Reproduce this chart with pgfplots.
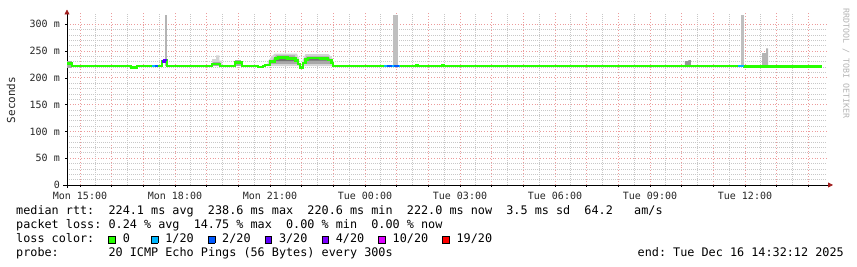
\documentclass[border=0pt]{standalone}
\usepackage{fontspec}
\usepackage{pgfplots}
\pgfplotsset{compat=1.18}
\usetikzlibrary{arrows.meta}
\newfontfamily\rrd{DejaVu Sans Mono}
\definecolor{lzero}{HTML}{26FF00}
\definecolor{lone}{HTML}{00B8FF}
\definecolor{ltwo}{HTML}{0059FF}
\definecolor{lthree}{HTML}{5E00FF}
\definecolor{lfour}{HTML}{7E00FF}
\definecolor{lten}{HTML}{DD00FF}
\definecolor{lnineteen}{HTML}{FF0000}
\definecolor{gridred}{HTML}{EC9C9C}
\definecolor{gridgray}{HTML}{C8C8C8}
\definecolor{arrowred}{HTML}{A01E1E}
\definecolor{smokeL}{HTML}{D4D4D4}
\definecolor{smokeM}{HTML}{A8A8A8}
\definecolor{smokeD}{HTML}{707070}
\definecolor{wmark}{HTML}{B4B4B4}
\newcommand\legfont{\rrd\fontsize{11.8pt}{14pt}\selectfont}
\newcommand\lbox[1]{\makebox[7.1pt][c]{\setlength{\fboxsep}{0pt}\setlength{\fboxrule}{0.7pt}\fcolorbox{black}{#1}{\rule{0pt}{6pt}\rule{6pt}{0pt}}}}
\frenchspacing
\begin{document}
\begin{tikzpicture}
\useasboundingbox (0pt,0pt) rectangle (857pt,267pt);
\begin{axis}[
  at={(67pt,82pt)}, anchor=south west,
  scale only axis, width=760pt, height=171.5pt,
  xmin=14.59, xmax=38.59, ymin=0, ymax=320,
  axis lines=left,
  x axis line style={black, line width=0.8pt, shorten <=-4pt, shorten >=-6pt, -{Triangle[length=5pt,width=5pt,color=arrowred]}},
  y axis line style={black, line width=0.8pt, shorten <=-3pt, shorten >=-4pt, -{Triangle[length=5pt,width=5pt,color=arrowred]}},
  xtick={15,16,...,38},
  xticklabels={{Mon 15:00},,,{Mon 18:00},,,{Mon 21:00},,,{Tue 00:00},,,{Tue 03:00},,,{Tue 06:00},,,{Tue 09:00},,,{Tue 12:00},,},
  minor x tick num=1,
  ytick={0,50,...,300},
  yticklabels={0,{50 m},{100 m},{150 m},{200 m},{250 m},{300 m}},
  minor y tick num=4,
  grid=both,
  major grid style={color=gridred, dash pattern=on 0.8pt off 2pt, line width=0.8pt},
  minor grid style={color=gridgray, dash pattern=on 1pt off 1pt, line width=0.7pt},
  tick align=outside, major tick length=2pt, minor tick length=0pt,
  tick style={black, line width=0.6pt},
  ticklabel style={font=\rrd\fontsize{10pt}{12pt}\selectfont, text=black!85},
  xticklabel style={inner sep=0pt, yshift=-4.8pt},
  yticklabel style={inner sep=0pt, xshift=-5pt},
]
% smoke
\addplot[fill=smokeM, draw=none] coordinates {(14.59,219) (14.59,231) (14.75,231) (14.75,219)} -- cycle;
\addplot[fill=smokeD, draw=none] coordinates {(17.56,221) (17.56,231) (17.60,231) (17.60,221)} -- cycle;
\addplot[fill=smokeL!85!black, draw=none] coordinates {(17.70,222) (17.70,317) (17.76,317) (17.76,222)} -- cycle;
\addplot[fill=smokeD, draw=none] coordinates {(17.74,221) (17.74,234) (17.77,234) (17.77,221)} -- cycle;
\addplot[fill=smokeL, draw=none] coordinates {(19.17,222) (19.17,235) (19.30,235) (19.30,242) (19.40,242) (19.40,232) (19.48,232) (19.48,222)} -- cycle;
\addplot[fill=smokeM, draw=none] coordinates {(19.20,222) (19.20,229) (19.42,229) (19.42,222)} -- cycle;
\addplot[fill=smokeM, draw=none] coordinates {(19.89,222) (19.89,233) (20.10,233) (20.10,222)} -- cycle;
\addplot[fill=smokeD, draw=none] coordinates {(19.88,221) (19.88,231) (19.91,231) (19.91,221)} -- cycle;
\addplot[fill=smokeD, draw=none] coordinates {(20.09,221) (20.09,231) (20.12,231) (20.12,221)} -- cycle;
% plateau smoke
\addplot[fill=smokeL, draw=none] coordinates {(20.90,222) (20.95,232) (21.05,240) (21.15,245) (21.85,245) (21.92,236) (21.92,222)} -- cycle;
\addplot[fill=smokeM, draw=none] coordinates {(21.00,226) (21.10,235) (21.20,242) (21.78,242) (21.85,232) (21.85,226)} -- cycle;
\addplot[fill=smokeD, draw=none] coordinates {(21.15,231) (21.25,238) (21.70,238) (21.80,231)} -- cycle;
\addplot[fill=smokeL, draw=none] coordinates {(22.00,222) (22.04,234) (22.12,244) (22.85,244) (22.98,236) (23.00,222)} -- cycle;
\addplot[fill=smokeM, draw=none] coordinates {(22.06,226) (22.14,240) (22.85,240) (22.96,230) (22.96,226)} -- cycle;
\addplot[fill=smokeD, draw=none] coordinates {(22.15,232) (22.22,238) (22.80,238) (22.88,232)} -- cycle;
\addplot[fill=smokeL!90!black, draw=none] coordinates {(24.87,222) (24.87,317) (25.03,317) (25.03,222)} -- cycle;
\addplot[fill=smokeM!90!black, draw=none] coordinates {(34.10,222) (34.10,231) (34.21,231) (34.21,233) (34.29,233) (34.29,222)} -- cycle;
\addplot[fill=smokeL!90!black, draw=none] coordinates {(35.87,222) (35.87,317) (35.97,317) (35.97,222)} -- cycle;
\addplot[fill=smokeL!85!black, draw=none] coordinates {(36.54,222) (36.54,246) (36.67,246) (36.67,255) (36.73,255) (36.73,222)} -- cycle;
% median rtt, loss 0
\addplot[lzero, line width=2.6pt, const plot, line join=miter] coordinates {
(14.59,227) (14.75,222) (16.61,219) (16.80,222) (17.59,230) (17.67,233) (17.75,222)
(19.17,226) (19.42,222) (19.89,229) (20.12,222) (20.62,220) (20.78,222) (20.84,224)
(21.00,230) (21.16,236) (21.25,238) (21.55,236) (21.80,232) (21.88,226) (21.95,219)
(22.04,228) (22.12,234) (22.20,237) (22.60,236) (22.83,233) (22.95,228) (22.99,222)
(25.62,224) (25.66,222) (26.44,223) (26.48,222) (35.97,221) (36.95,220) (37.00,221)
(37.23,220) (37.28,221) (37.99,220) (38.03,221) (38.43,221)};
% loss colours
\addplot[lone, line width=2.6pt, line cap=butt] coordinates {(17.27,222) (17.37,222)};
\addplot[ltwo, line width=2.6pt, line cap=butt] coordinates {(17.37,222) (17.46,222)};
\addplot[lthree, line width=2.6pt, const plot, line cap=butt] coordinates {(17.59,230) (17.67,233) (17.75,233)};
\addplot[lone, line width=2.6pt, line cap=butt] coordinates {(24.60,222) (24.70,222)};
\addplot[ltwo, line width=2.6pt, line cap=butt] coordinates {(24.70,222) (24.86,222)};
\addplot[lone, line width=2.6pt, line cap=butt] coordinates {(24.86,222) (24.92,222)};
\addplot[ltwo, line width=2.6pt, line cap=butt] coordinates {(24.92,222) (25.08,222)};
\addplot[lone, line width=2.6pt, line cap=butt] coordinates {(25.08,222) (25.12,222)};
\addplot[lone, line width=2.6pt, line cap=butt] coordinates {(35.78,222) (35.97,222)};
\end{axis}
% y label and watermark
\node[rotate=90, font=\rrd\fontsize{11pt}{12pt}\selectfont, text=black!85] at (11pt,167pt) {Seconds};
\node[rotate=-90, anchor=west, font=\rrd\fontsize{8.3pt}{9pt}\selectfont, text=wmark] at (846pt,262pt) {RRDTOOL / TOBI OETIKER};
% legend text
\node[anchor=base west, inner sep=0pt, font=\legfont] at (16pt,52.7pt) {median~rtt:~~224.1~ms~avg~~238.6~ms~max~~220.6~ms~min~~222.0~ms~now~~3.5~ms~sd~~64.2~~~am/s};
\node[anchor=base west, inner sep=0pt, font=\legfont] at (16pt,38.5pt) {packet~loss:~0.24~\%~avg~~14.75~\%~max~~0.00~\%~min~~0.00~\%~now};
\node[anchor=base west, inner sep=0pt, font=\legfont] at (16pt,24.3pt) {loss~color:~~\lbox{lzero}~0~~~\lbox{lone}~1/20~~\lbox{ltwo}~2/20~~\lbox{lthree}~3/20~~\lbox{lfour}~4/20~~\lbox{lten}~10/20~~\lbox{lnineteen}~19/20};
\node[anchor=base west, inner sep=0pt, font=\legfont] at (16pt,10.1pt) {probe:~~~~~~~20~ICMP~Echo~Pings~(56~Bytes)~every~300s};
\node[anchor=base west, inner sep=0pt, font=\legfont] at (637.5pt,10.1pt) {end:~Tue~Dec~16~14:32:12~2025};
\end{tikzpicture}
\end{document}
